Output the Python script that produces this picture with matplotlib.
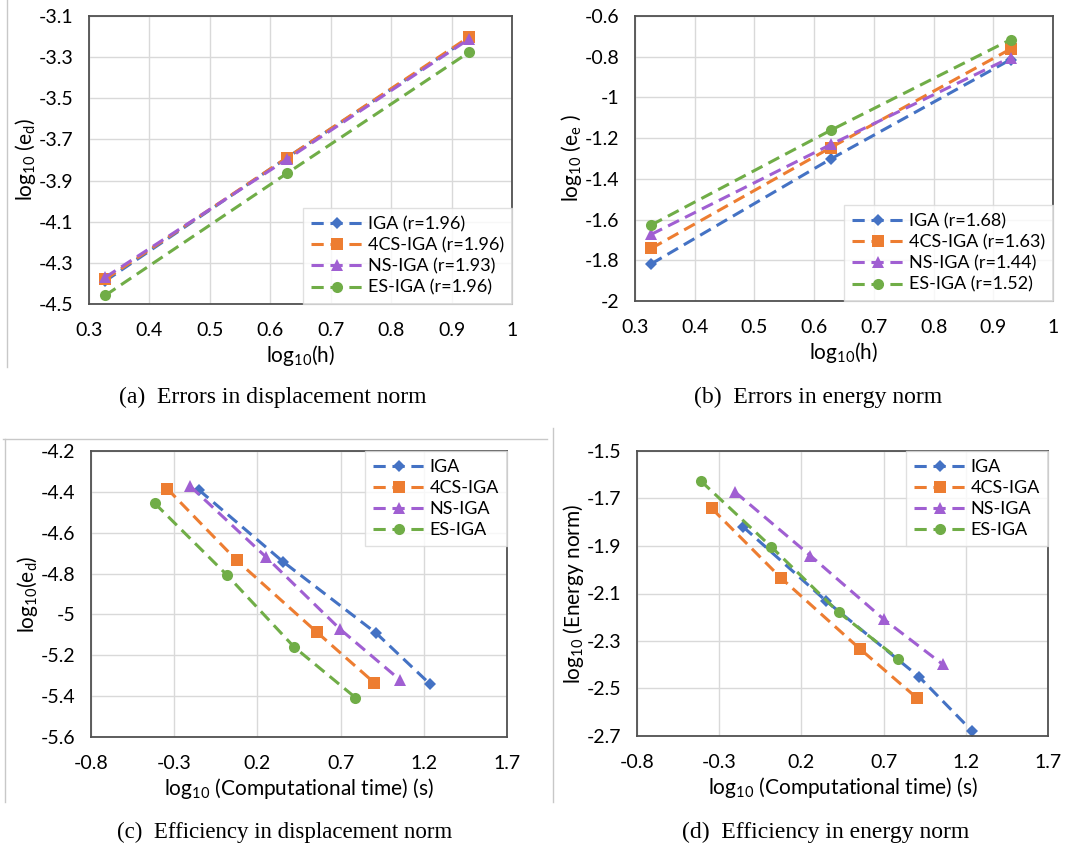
import matplotlib
matplotlib.use("Agg")
import matplotlib.pyplot as plt
from matplotlib.lines import Line2D
from matplotlib.ticker import FuncFormatter

plt.rcParams['font.family'] = ['Lato', 'DejaVu Sans']
plt.rcParams['mathtext.default'] = 'regular'
plt.rcParams['axes.unicode_minus'] = False

# ---------------- data ----------------
methods = ["IGA", "4CS-IGA", "NS-IGA", "ES-IGA"]
colors = ["#4472C4", "#ED7D31", "#A05FD2", "#70AD47"]
markers = ["D", "s", "^", "o"]
msizes = [6, 8, 8, 8]

log_h = [0.327, 0.628, 0.929]

# (a) displacement error vs h
ed_h = {
    "IGA": [-4.388, -3.788, -3.207],
    "4CS-IGA": [-4.380, -3.788, -3.202],
    "NS-IGA": [-4.370, -3.796, -3.212],
    "ES-IGA": [-4.458, -3.864, -3.276],
}
rate_a = ["1.96", "1.96", "1.93", "1.96"]

# (b) energy error vs h
ee_h = {
    "IGA": [-1.818, -1.302, -0.814],
    "4CS-IGA": [-1.742, -1.246, -0.762],
    "NS-IGA": [-1.673, -1.231, -0.804],
    "ES-IGA": [-1.627, -1.161, -0.716],
}
rate_b = ["1.68", "1.63", "1.44", "1.52"]

# (c) displacement error vs computational time
time_c = {
    "IGA": [-0.151, 0.354, 0.913, 1.239],
    "4CS-IGA": [-0.343, 0.075, 0.556, 0.903],
    "NS-IGA": [-0.203, 0.252, 0.698, 1.059],
    "ES-IGA": [-0.417, 0.017, 0.420, 0.789],
}
ed_t = {
    "IGA": [-4.391, -4.742, -5.091, -5.342],
    "4CS-IGA": [-4.384, -4.735, -5.086, -5.335],
    "NS-IGA": [-4.373, -4.719, -5.073, -5.322],
    "ES-IGA": [-4.456, -4.807, -5.159, -5.407],
}

# (d) energy error vs computational time
time_d = {
    "IGA": [-0.155, 0.351, 0.916, 1.239],
    "4CS-IGA": [-0.345, 0.075, 0.554, 0.903],
    "NS-IGA": [-0.203, 0.255, 0.700, 1.059],
    "ES-IGA": [-0.412, 0.016, 0.426, 0.789],
}
ee_t = {
    "IGA": [-1.819, -2.132, -2.451, -2.680],
    "4CS-IGA": [-1.742, -2.034, -2.332, -2.540],
    "NS-IGA": [-1.673, -1.941, -2.208, -2.398],
    "ES-IGA": [-1.626, -1.903, -2.179, -2.375],
}

xt_ab = [0.3, 0.4, 0.5, 0.6, 0.7, 0.8, 0.9, 1.0]
yt_a = [-4.5, -4.3, -4.1, -3.9, -3.7, -3.5, -3.3, -3.1]
yt_b = [-2.0, -1.8, -1.6, -1.4, -1.2, -1.0, -0.8, -0.6]
xt_cd = [-0.8, -0.3, 0.2, 0.7, 1.2, 1.7]
yt_c = [-5.6, -5.4, -5.2, -5.0, -4.8, -4.6, -4.4, -4.2]
yt_d = [-2.7, -2.5, -2.3, -2.1, -1.9, -1.7, -1.5]

captions = ["(a)  Errors in displacement norm", "(b)  Errors in energy norm",
            "(c)  Efficiency in displacement norm", "(d)  Efficiency in energy norm"]

# ---------------- figure ----------------
W, H = 1084, 850
fig = plt.figure(figsize=(W / 100, H / 100), dpi=100)


def rect(l, r, t, b):
    return [l / W, 1 - b / H, (r - l) / W, (b - t) / H]


fmt = FuncFormatter(lambda v, p: f"{round(v, 2):g}")


def style(ax, xt, yt):
    ax.set_xlim(xt[0], xt[-1])
    ax.set_ylim(yt[0], yt[-1])
    ax.set_xticks(xt)
    ax.set_yticks(yt)
    ax.xaxis.set_major_formatter(fmt)
    ax.yaxis.set_major_formatter(fmt)
    ax.grid(True, color="#D9D9D9", linewidth=1.0)
    ax.set_axisbelow(True)
    ax.tick_params(length=0, labelsize=14, colors="#000000")
    ax.tick_params(axis="x", pad=13)
    ax.tick_params(axis="y", pad=11)
    for s in ax.spines.values():
        s.set_color("#505050")
        s.set_linewidth(1.3)


def draw(ax, xs, ys, labels, loc):
    for i, m in enumerate(methods):
        x = xs[m] if isinstance(xs, dict) else xs
        ax.plot(x, ys[m], linestyle=(0, (4, 2.2)), color=colors[i], linewidth=2.2,
                marker=markers[i], markersize=msizes[i], label=labels[i],
                markeredgewidth=0)
    leg = ax.legend(loc=loc, fontsize=13, frameon=True, fancybox=False,
                    borderaxespad=0.0, handlelength=2.9, handletextpad=0.25,
                    labelspacing=0.28, borderpad=0.45)
    leg.get_frame().set_edgecolor("#D9D9D9")
    leg.get_frame().set_linewidth(1.0)


axa = fig.add_axes(rect(89, 512, 16, 304))
draw(axa, log_h, ed_h, [f"{m} (r={r})" for m, r in zip(methods, rate_a)], "lower right")
style(axa, xt_ab, yt_a)
axa.set_xlabel("log$_{10}$(h)", fontsize=15, labelpad=3)
axa.set_ylabel("log$_{10}$ (e$_d$)", fontsize=15, labelpad=1)

axb = fig.add_axes(rect(635, 1053, 16, 301))
draw(axb, log_h, ee_h, [f"{m} (r={r})" for m, r in zip(methods, rate_b)], "lower right")
style(axb, xt_ab, yt_b)
axb.set_xlabel("log$_{10}$(h)", fontsize=15, labelpad=3)
axb.set_ylabel("log$_{10}$ (e$_e$ )", fontsize=15, labelpad=1)

axc = fig.add_axes(rect(91, 507, 451, 737))
draw(axc, time_c, ed_t, methods, "upper right")
style(axc, xt_cd, yt_c)
axc.set_xlabel("log$_{10}$ (Computational time) (s)", fontsize=15, labelpad=3)
axc.set_ylabel("log$_{10}$(e$_d$)", fontsize=15, labelpad=1)

axd = fig.add_axes(rect(637, 1048, 451, 736))
draw(axd, time_d, ee_t, methods, "upper right")
style(axd, xt_cd, yt_d)
axd.set_xlabel("log$_{10}$ (Computational time) (s)", fontsize=15, labelpad=3)
axd.set_ylabel("log$_{10}$ (Energy norm)", fontsize=15, labelpad=1)

# captions
cap_pos = [(273, 397), (818, 397), (285, 832), (826, 832)]
cap_sizes = [17, 17, 16.5, 17]
for (cx, cy), txt, fs in zip(cap_pos, captions, cap_sizes):
    fig.text(cx / W, 1 - cy / H, txt, ha="center", va="center",
             fontsize=fs, family=["Liberation Serif", "DejaVu Serif"])

# light frame fragments of the original chart areas
frame_col = "#C8C8C8"
for (x0, y0, x1, y1) in [(7, 0, 7, 367), (3, 439, 547, 439), (5, 439, 5, 802),
                         (553, 428, 553, 802)]:
    fig.add_artist(Line2D([x0 / W, x1 / W], [1 - y0 / H, 1 - y1 / H],
                          color=frame_col, linewidth=1.0))

fig.savefig("out.png", dpi=100)
